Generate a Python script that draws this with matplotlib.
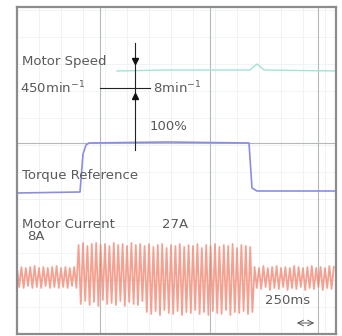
import numpy as np
import matplotlib.pyplot as plt

plt.rcParams['font.family'] = ['DejaVu Sans']

# screen units: time in ms (x), trace level in screen units (y, 0 = bottom)
SAMPLE_MS = 22

speed_t = [1000, 1500, 2330, 2400, 2470, 3200]
speed_y = [263, 264, 264, 270, 264, 263]

torque_t = [0, 630, 660, 690, 720, 1500, 2320, 2350, 2400, 3200]
torque_y = [141, 142, 180, 189, 191, 192, 191, 146, 143, 143]

current_pre = [66, 47, 67, 46, 66, 48, 67, 46, 68, 47, 66, 46, 67, 48,
               66, 46, 67, 47, 68, 46, 66, 47, 67, 46, 66, 48, 67, 46]
current_load = [89, 30, 91, 33, 88, 29, 90, 32, 91, 28, 89, 34, 90, 30, 88,
                31, 91, 29, 89, 33, 90, 28, 88, 32, 91, 30, 89, 29, 90, 33,
                88, 22, 90, 20, 87, 23, 89, 19, 90, 24, 86, 21, 89, 20, 88,
                23, 90, 19, 87, 22, 89, 21, 88, 24, 90, 20, 86, 22, 89, 19,
                88, 23, 90, 21, 87, 20, 89, 24, 88, 19, 90, 22, 86, 21, 89,
                23, 88, 20, 87, 22]
current_post = [67, 46, 66, 45, 68, 47, 66, 44, 67, 46, 68, 45, 66, 47, 67,
                44, 66, 46, 68, 45, 67, 47, 66, 44, 67, 46, 68, 45, 66, 47,
                67, 44, 66, 46, 68, 45, 67]

major_x = [830, 1930, 3010]
major_y = [191]

fig = plt.figure(figsize=(3.42, 3.36), dpi=100)
ax = fig.add_axes([17 / 342, 2 / 336, 319 / 342, 327 / 336])
ax.set_xlim(0, 3190)
ax.set_ylim(0, 327)
ax.set_xticks([])
ax.set_yticks([])
for s in ax.spines.values():
    s.set_color('#8c8c8c')
    s.set_linewidth(1.6)

# faint minor grid
for x in np.arange(0, 3200, 220):
    ax.axvline(x, color='#edf1f2', lw=0.6, zorder=0)
for y in np.arange(0, 327, 27):
    ax.axhline(y, color='#eff2f3', lw=0.6, zorder=0)
for x in major_x:
    ax.axvline(x, color='#b4b8bb', lw=0.8, zorder=1)
for y in major_y:
    ax.axhline(y, color='#b4b8bb', lw=0.8, zorder=1)

ax.plot(speed_t, speed_y, color='#a4e2d4', lw=1.0, zorder=2)
ax.plot(torque_t, torque_y, color='#8c8ce6', lw=1.2, zorder=2)

current = current_pre + current_load + current_post
current_t = np.arange(len(current)) * SAMPLE_MS
ax.plot(current_t, current, color='#f27a62', lw=1.3, alpha=0.7, zorder=2)

# speed scale marker
ax.plot([1180, 1180], [184, 291], color='#222222', lw=0.8, zorder=3)
ax.plot([830, 1330], [246, 246], color='#222222', lw=0.8, zorder=3)
ax.plot([1180], [273], marker='v', color='#111111', ms=5, zorder=4)
ax.plot([1180], [238], marker='^', color='#111111', ms=5, zorder=4)

txt = dict(color='#5a5a5a', fontsize=9.5, va='center', ha='left')
ax.text(50, 272, 'Motor Speed', **txt)
ax.text(30, 246, '450min$^{-1}$', **txt)
ax.text(1360, 246, '8min$^{-1}$', **txt)
ax.text(1330, 207, '100%', **txt)
ax.text(50, 158, 'Torque Reference', **txt)
ax.text(50, 110, 'Motor Current', **txt)
ax.text(1450, 110, '27A', **txt)
ax.text(100, 97, '8A', **txt)
ax.text(2480, 33, '250ms', **txt)
ax.annotate('', xy=(2770, 11), xytext=(3000, 11),
            arrowprops=dict(arrowstyle='<->', color='#555555', lw=0.7))

fig.savefig('out.png', dpi=100)
